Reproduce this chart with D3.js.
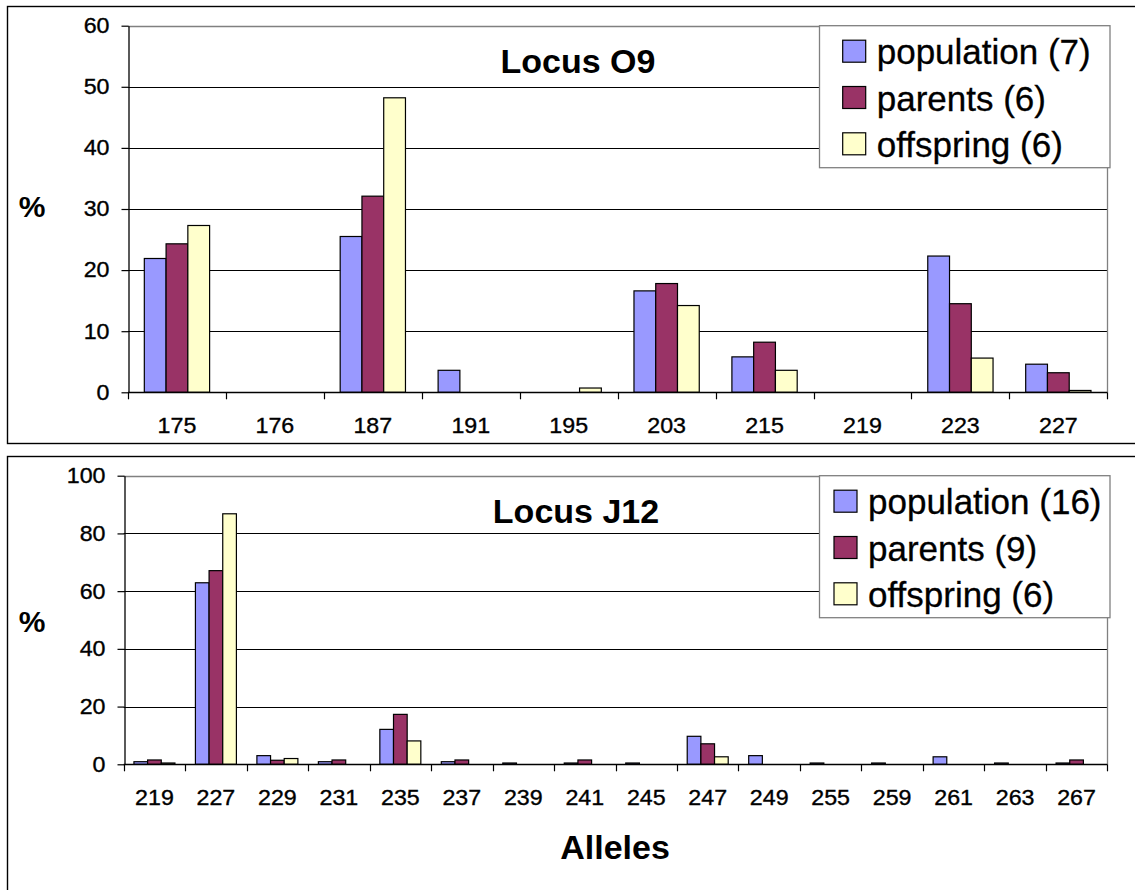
<!DOCTYPE html>
<html><head><meta charset="utf-8">
<script src="https://cdn.jsdelivr.net/npm/d3@7"></script>
<style>
body{margin:0;background:#fff}
svg{display:block}
text{font-family:"Liberation Sans",Arial,Helvetica,sans-serif;fill:#000}
</style>
</head><body>
<svg id="c" width="1135" height="890"></svg>
<script>
// ---------- data ----------
const seriesNames = ["population", "parents", "offspring"];
const seriesColors = ["#9999FF", "#993366", "#FFFFCC"];

const allelesO9 = ["175","176","187","191","195","203","215","219","223","227"];
const populationO9 = [21.9, 0, 25.5, 3.6, 0, 16.6, 5.8, 0, 22.3, 4.6];
const parentsO9    = [24.3, 0, 32.1, 0, 0, 17.8, 8.2, 0, 14.5, 3.2];
const offspringO9  = [27.3, 0, 48.2, 0, 0.7, 14.2, 3.6, 0, 5.6, 0.3];
const legendO9 = ["population (7)", "parents (6)", "offspring (6)"];
const yTicksO9 = [0, 10, 20, 30, 40, 50, 60];

const allelesJ12 = ["219","227","229","231","235","237","239","241","245","247","249","255","259","261","263","267"];
const populationJ12 = [0.9, 62.9, 3.0, 0.9, 12.1, 0.9, 0.45, 0.45, 0.45, 9.7, 3.0, 0.45, 0.45, 2.6, 0.45, 0.45];
const parentsJ12    = [1.5, 67.1, 1.4, 1.5, 17.3, 1.5, 0, 1.5, 0, 7.1, 0, 0, 0, 0, 0, 1.5];
const offspringJ12  = [0.45, 86.8, 2.0, 0, 8.1, 0, 0, 0, 0, 2.6, 0, 0, 0, 0, 0, 0];
const legendJ12 = ["population (16)", "parents (9)", "offspring (6)"];
const yTicksJ12 = [0, 20, 40, 60, 80, 100];

// ---------- drawing ----------
const svg = d3.select("#c");
const TICK_FS = 21.5, TICK_SX = 1.08;

function styleTickText(sel) {
  sel.attr("font-size", TICK_FS).attr("font-family", null).attr("fill", "#000")
    .attr("stroke", "#000").attr("stroke-width", 0.35)
    .each(function () {
      const t = d3.select(this);
      const x0 = +t.attr("x") || 0;
      t.attr("x", x0 / TICK_SX).attr("transform", `scale(${TICK_SX},1)`);
    });
}

function drawChart(cfg) {
  const g = svg.append("g");
  const [fx, fy, fw, fh] = cfg.frame;
  g.append("rect").attr("x", fx).attr("y", fy).attr("width", fw).attr("height", fh)
    .attr("fill", "#fff").attr("stroke", "#000").attr("stroke-width", 1.4);

  const x = d3.scaleBand().domain(cfg.categories).range([cfg.left, cfg.right]).padding(0);
  const bw = x.bandwidth();
  const xs = d3.scaleBand().domain(d3.range(cfg.series.length))
    .range([bw * 0.75 / 4.5, bw * 3.75 / 4.5]).padding(0);
  const yMax = cfg.yTicks[cfg.yTicks.length - 1];
  const y = d3.scaleLinear().domain([0, yMax]).range([cfg.bottom, cfg.top]);

  // gridlines
  g.append("g").selectAll("line").data(cfg.yTicks.filter(t => t > 0 && t < yMax)).join("line")
    .attr("x1", cfg.left).attr("x2", cfg.right)
    .attr("y1", d => Math.round(y(d)) + 0.5).attr("y2", d => Math.round(y(d)) + 0.5)
    .attr("stroke", "#000").attr("stroke-width", 1);
  // plot area border top/right (gray)
  g.append("path")
    .attr("d", `M${cfg.left},${Math.round(y(yMax)) + 0.5}H${Math.round(cfg.right) + 0.5}V${cfg.bottom}`)
    .attr("fill", "none").attr("stroke", "#808080").attr("stroke-width", 1.3);

  // bars
  const rows = [];
  cfg.categories.forEach((c, i) => {
    cfg.series.forEach((s, j) => { if (s[i] > 0) rows.push({ c, j, v: s[i] }); });
  });
  g.append("g").selectAll("rect").data(rows).join("rect")
    .attr("x", d => x(d.c) + xs(d.j))
    .attr("width", xs.bandwidth())
    .attr("y", d => y(d.v))
    .attr("height", d => y(0) - y(d.v))
    .attr("fill", d => seriesColors[d.j])
    .attr("stroke", "#000").attr("stroke-width", 1.2);

  // y axis
  const ya = g.append("g").attr("transform", `translate(${Math.round(cfg.left) + 0.5},0)`)
    .call(d3.axisLeft(y).tickValues(cfg.yTicks).tickSize(7).tickSizeOuter(0).tickPadding(12));
  ya.select(".domain").attr("stroke", "#000").attr("stroke-width", 1.3);
  ya.selectAll(".tick line").attr("stroke", "#000").attr("stroke-width", 1.2);
  ya.selectAll(".tick text").call(styleTickText);

  // x axis: baseline + boundary ticks
  const xa = g.append("g");
  xa.append("line").attr("x1", cfg.left).attr("x2", cfg.right)
    .attr("y1", Math.round(y(0)) + 0.5).attr("y2", Math.round(y(0)) + 0.5)
    .attr("stroke", "#000").attr("stroke-width", 1.3);
  const bounds = cfg.categories.map(c => x(c)).concat([cfg.right]);
  xa.selectAll("line.b").data(bounds).join("line").attr("class", "b")
    .attr("x1", d => Math.round(d) + 0.5).attr("x2", d => Math.round(d) + 0.5)
    .attr("y1", y(0)).attr("y2", y(0) + 7)
    .attr("stroke", "#000").attr("stroke-width", 1.2);
  const xl = g.append("g").attr("transform", `translate(0,${y(0)})`)
    .call(d3.axisBottom(x).tickSize(0).tickPadding(25.5));
  xl.select(".domain").remove();
  xl.selectAll(".tick text").call(styleTickText);

  // title
  g.append("text").attr("x", cfg.titleX).attr("y", cfg.titleY).attr("text-anchor", "middle")
    .attr("font-size", 34).attr("font-weight", "bold").text(cfg.title);
  // y label
  g.append("text").attr("x", cfg.yLabelX).attr("y", cfg.yLabelY).attr("text-anchor", "middle")
    .attr("font-size", 30).attr("font-weight", "bold").text("%");

  // legend
  const [lx, ly, lw, lh] = cfg.legendBox;
  const lg = g.append("g");
  lg.append("rect").attr("x", lx).attr("y", ly).attr("width", lw).attr("height", lh)
    .attr("fill", "#fff").attr("stroke", "#808080").attr("stroke-width", 1.3);
  const items = lg.selectAll("g.item").data(cfg.legend).join("g").attr("class", "item")
    .attr("transform", (d, i) => `translate(${cfg.legendSwatchX},${ly + 14.5 + i * 46.3})`);
  items.append("rect").attr("width", 23).attr("height", 22)
    .attr("fill", (d, i) => seriesColors[i]).attr("stroke", "#000").attr("stroke-width", 1.2);
  items.append("text").attr("x", 34).attr("y", 24).attr("font-size", 35)
    .attr("stroke", "#000").attr("stroke-width", 0.3).text(d => d);

  if (cfg.xLabel) {
    g.append("text").attr("x", cfg.xLabelX).attr("y", cfg.xLabelY).attr("text-anchor", "middle")
      .attr("font-size", 34).attr("font-weight", "bold").text(cfg.xLabel);
  }
}

drawChart({
  frame: [7.5, 6.5, 1140, 437],
  categories: allelesO9,
  series: [populationO9, parentsO9, offspringO9],
  yTicks: yTicksO9,
  left: 128, right: 1107.3, top: 25.7, bottom: 392.3,
  title: "Locus O9", titleX: 578, titleY: 73,
  yLabelX: 32, yLabelY: 217,
  legend: legendO9, legendBox: [819.5, 25.7, 290.5, 142], legendSwatchX: 842.7
});

drawChart({
  frame: [7.5, 456.5, 1140, 450],
  categories: allelesJ12,
  series: [populationJ12, parentsJ12, offspringJ12],
  yTicks: yTicksJ12,
  left: 123.7, right: 1107.3, top: 475.7, bottom: 764.3,
  title: "Locus J12", titleX: 576, titleY: 523,
  yLabelX: 32, yLabelY: 632,
  legend: legendJ12, legendBox: [819.5, 475.7, 290.5, 142], legendSwatchX: 834,
  xLabel: "Alleles", xLabelX: 615, xLabelY: 859
});
</script>
</body></html>
